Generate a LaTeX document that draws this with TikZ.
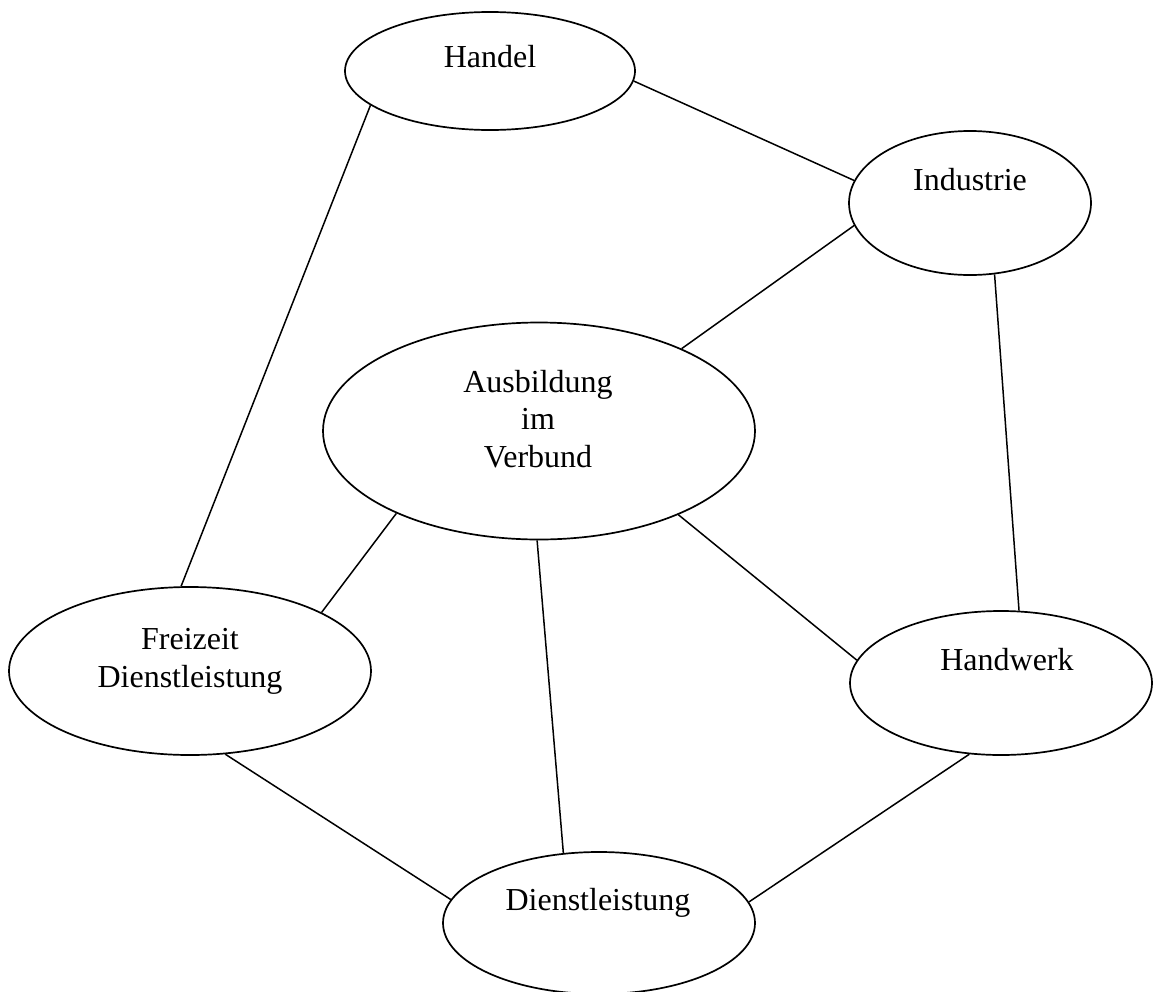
\documentclass[tikz,border=0pt]{standalone}
\usepackage{fontspec}
\setmainfont{Liberation Serif}
\usetikzlibrary{shapes.geometric}
\tikzset{
  ell/.style={draw=black, line width=1.7pt, ellipse, inner sep=0pt, fill=none},
  lbl/.style={anchor=base, align=center, inner sep=0pt, font=\fontsize{32}{37.5}\selectfont},
  link/.style={draw=black, line width=1.5pt}
}
\begin{document}
\begin{tikzpicture}[x=1pt,y=-1pt]
\useasboundingbox (0,0) rectangle (1154,991);
\fill[white] (0,0) rectangle (1154,991);
% ellipses
\node[ell, minimum width=290pt, minimum height=118pt] (handel) at (490,71) {};
\node[ell, minimum width=242pt, minimum height=144pt] (industrie) at (970,203) {};
\node[ell, minimum width=432pt, minimum height=217pt] (ausb) at (539,431) {};
\node[ell, minimum width=362pt, minimum height=168pt] (freizeit) at (190,671) {};
\node[ell, minimum width=302pt, minimum height=144pt] (handwerk) at (1001,683) {};
\node[ell, minimum width=312pt, minimum height=142pt] (dienst) at (599,923) {};
% texts
\node[lbl] (t1) at (490,67) {Handel};
\node[lbl] (t2) at (970,190) {Industrie};
\node[lbl] (t3a) at (538,392) {Ausbildung};
\node[lbl] (t3b) at (538,429) {im};
\node[lbl] (t3c) at (538,467) {Verbund};
\node[lbl] (t4a) at (190,649) {Freizeit};
\node[lbl] (t4b) at (190,687) {Dienstleistung};
\node[lbl] (t5) at (1007,670) {Handwerk};
\node[lbl] (t6) at (598,910) {Dienstleistung};
% connectors
\draw[link] (handel.-4.8) -- (industrie.169.1);
\draw[link] (handel.196.7) -- (freizeit.96.8);
\draw[link] (industrie.191.3) -- (ausb.30.4);
\draw[link] (industrie.-71.3) -- (handwerk.76.5);
\draw[link] (ausb.210.5) -- (freizeit.24.1);
\draw[link] (ausb.269.5) -- (dienst.117.5);
\draw[link] (ausb.329.6) -- (handwerk.171.3);
\draw[link] (freizeit.293.8) -- (dienst.171.3);
\draw[link] (handwerk.246.7) -- (dienst.8.8);
\end{tikzpicture}
\end{document}
